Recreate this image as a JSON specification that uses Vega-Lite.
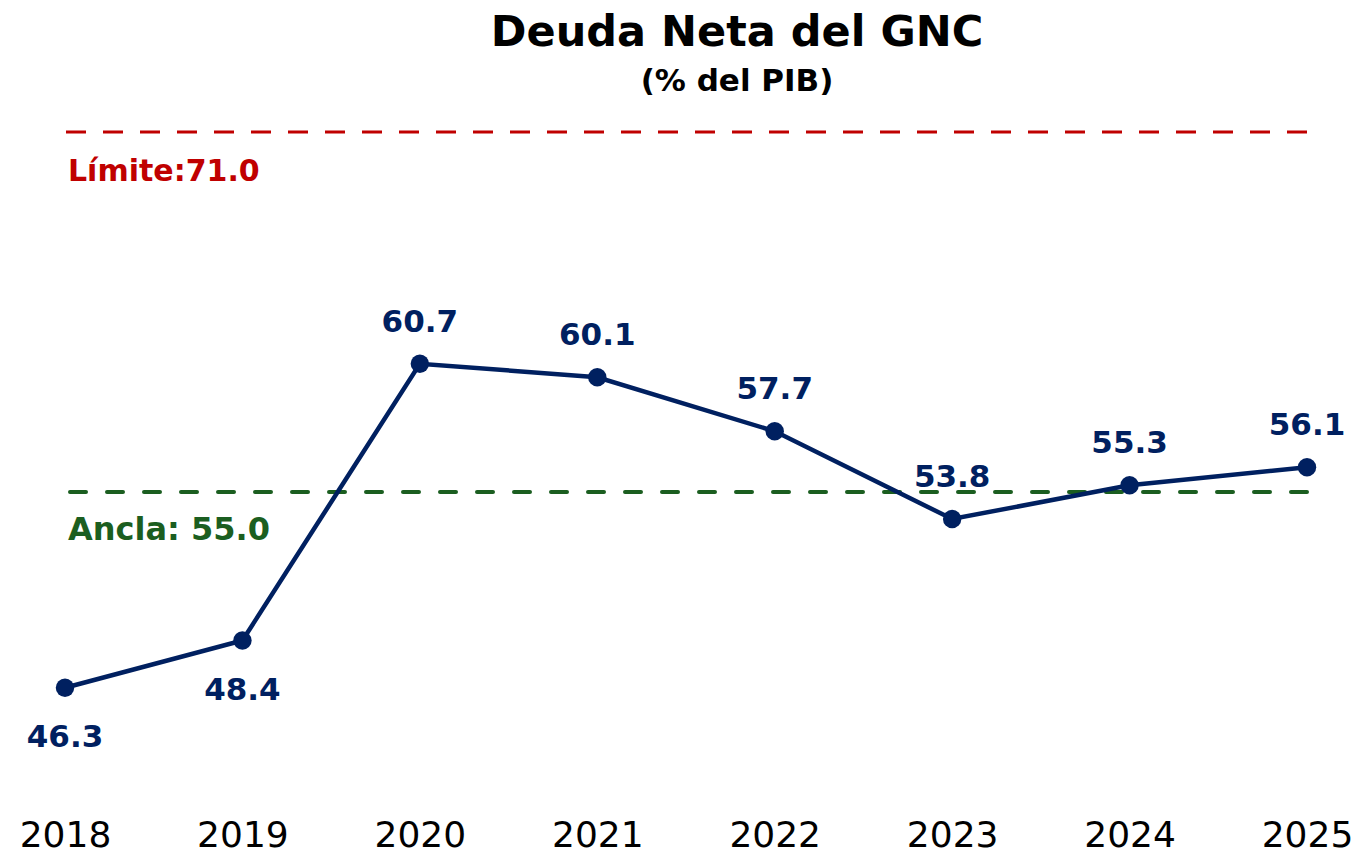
{
  "$schema": "https://vega.github.io/schema/vega-lite/v6.json",
  "autosize": {"type": "none"},
  "padding": {"left": 65, "top": 87, "right": 63, "bottom": 46},
  "width": 1242,
  "height": 720,
  "background": "white",
  "config": {"view": {"stroke": null}, "font": "DejaVu Sans"},
  "title": {
    "text": "Deuda Neta del GNC",
    "subtitle": "(% del PIB)",
    "font": "DejaVu Sans",
    "fontSize": 43,
    "fontWeight": "bold",
    "color": "black",
    "subtitleFont": "DejaVu Sans",
    "subtitleFontSize": 31,
    "subtitleFontWeight": "bold",
    "subtitleColor": "black",
    "subtitlePadding": 12,
    "anchor": "middle",
    "dx": 51,
    "offset": -10
  },
  "datasets": {
    "debt": [
      {"year": "2018", "value": 46.3},
      {"year": "2019", "value": 48.4},
      {"year": "2020", "value": 60.7},
      {"year": "2021", "value": 60.1},
      {"year": "2022", "value": 57.7},
      {"year": "2023", "value": 53.8},
      {"year": "2024", "value": 55.3},
      {"year": "2025", "value": 56.1}
    ],
    "refs": [
      {"name": "Límite", "value": 71.0, "label": "Límite:71.0"},
      {"name": "Ancla", "value": 55.0, "label": "Ancla: 55.0"}
    ]
  },
  "encoding": {
    "x": {
      "field": "year",
      "type": "ordinal",
      "scale": {"type": "point", "padding": 0},
      "axis": {
        "title": null,
        "ticks": false,
        "domain": false,
        "labelFontSize": 36,
        "labelFont": "DejaVu Sans",
        "labelColor": "black",
        "labelPadding": 11,
        "labelAngle": 0
      }
    }
  },
  "layer": [
    {
      "data": {"name": "refs"},
      "transform": [{"filter": "datum.name == 'Límite'"}],
      "mark": {"type": "rule", "color": "#C00000", "strokeWidth": 3, "strokeDash": [20, 17]},
      "encoding": {
        "x": null,
        "y": {"field": "value", "type": "quantitative", "scale": {"domain": [41, 73], "nice": false, "zero": false}, "axis": null}
      }
    },
    {
      "data": {"name": "refs"},
      "transform": [{"filter": "datum.name == 'Ancla'"}],
      "mark": {"type": "rule", "color": "#1B5E20", "strokeWidth": 4, "strokeDash": [16, 21], "strokeCap": "round"},
      "encoding": {
        "x": null,
        "y": {"field": "value", "type": "quantitative"}
      }
    },
    {
      "data": {"name": "refs"},
      "transform": [{"filter": "datum.name == 'Límite'"}],
      "mark": {"type": "text", "align": "left", "baseline": "middle", "dx": 3, "dy": 40, "fontSize": 30, "fontWeight": "bold", "font": "DejaVu Sans", "color": "#C00000"},
      "encoding": {
        "x": {"datum": "2018"},
        "y": {"field": "value", "type": "quantitative"},
        "text": {"field": "label"}
      }
    },
    {
      "data": {"name": "refs"},
      "transform": [{"filter": "datum.name == 'Ancla'"}],
      "mark": {"type": "text", "align": "left", "baseline": "middle", "dx": 3, "dy": 38, "fontSize": 32, "fontWeight": "bold", "font": "DejaVu Sans", "color": "#1B5E20"},
      "encoding": {
        "x": {"datum": "2018"},
        "y": {"field": "value", "type": "quantitative"},
        "text": {"field": "label"}
      }
    },
    {
      "data": {"name": "debt"},
      "mark": {"type": "line", "color": "#002060", "strokeWidth": 4.5},
      "encoding": {"y": {"field": "value", "type": "quantitative"}}
    },
    {
      "data": {"name": "debt"},
      "mark": {"type": "point", "filled": true, "shape": "circle", "size": 340, "color": "#002060", "opacity": 1},
      "encoding": {"y": {"field": "value", "type": "quantitative"}}
    },
    {
      "data": {"name": "debt"},
      "transform": [{"filter": "datum.year <= '2019'"}],
      "mark": {"type": "text", "baseline": "middle", "dy": 50, "fontSize": 31, "fontWeight": "bold", "font": "DejaVu Sans", "color": "#002060"},
      "encoding": {
        "y": {"field": "value", "type": "quantitative"},
        "text": {"field": "value", "type": "quantitative", "format": ".1f"}
      }
    },
    {
      "data": {"name": "debt"},
      "transform": [{"filter": "datum.year > '2019'"}],
      "mark": {"type": "text", "baseline": "middle", "dy": -41, "fontSize": 31, "fontWeight": "bold", "font": "DejaVu Sans", "color": "#002060"},
      "encoding": {
        "y": {"field": "value", "type": "quantitative"},
        "text": {"field": "value", "type": "quantitative", "format": ".1f"}
      }
    }
  ]
}
